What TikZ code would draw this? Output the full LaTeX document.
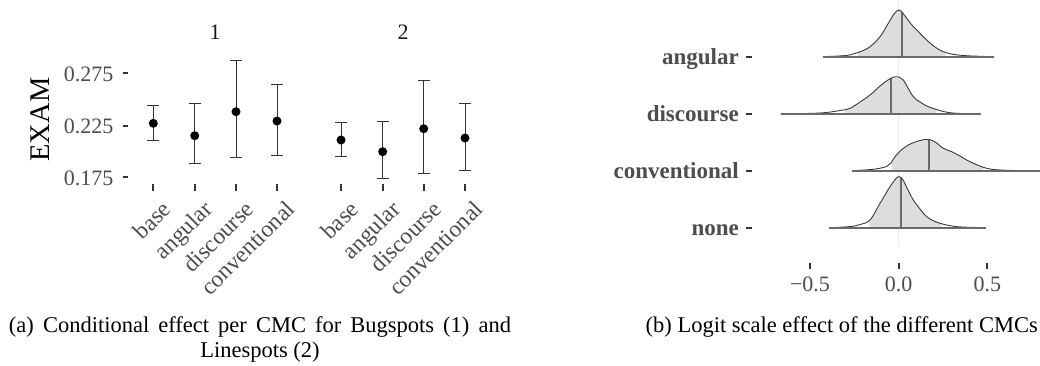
\documentclass[tikz,border=0pt]{standalone}
\usepackage{fontspec}
\setmainfont{Liberation Serif}
\definecolor{axtext}{HTML}{4D4D4D}
\definecolor{tickc}{HTML}{333333}
\definecolor{ridgeg}{HTML}{DDDDDD}
\definecolor{medc}{HTML}{6A6A6A}
\definecolor{gridc}{HTML}{EBEBEB}
\definecolor{curvec}{HTML}{3A3A3A}
\newcommand\ebar[5]{% name, x, top, point, bottom
  \draw[errbar] (#2,#3) -- (#2,#5) (#2-6,#3) -- (#2+6,#3) (#2-6,#5) -- (#2+6,#5);
  \fill[black] (#2,#4) circle[radius=4.5pt];
  \coordinate (#1) at (#2,#4);
}
\newcommand\ridge[7]{% points, base y, shade left, shade right, median x, first x, last x
  \begin{scope}
    \clip (#3,0) rectangle (#4,300);
    \fill[ridgeg] plot[smooth,tension=.6] coordinates {#1} -- cycle;
  \end{scope}
  \begin{scope}
    \clip plot[smooth,tension=.6] coordinates {#1} -- cycle;
    \draw[medc, line width=2pt] (#5,#2) -- (#5,0);
  \end{scope}
  \draw[curvec, line width=0.9pt] plot[smooth,tension=.6] coordinates {#1};
  \draw[medc, line width=1.6pt] (#6,#2) -- (#7,#2);
}
\begin{document}
\begin{tikzpicture}[x=1pt,y=-1pt,
  tickmark/.style={tickc, line width=2pt},
  ticklab/.style={text=axtext, font=\fontsize{22}{26}\selectfont, inner sep=0pt},
  rotlab/.style={text=axtext, font=\fontsize{23.5}{27}\selectfont, inner sep=0pt, rotate=45, anchor=north east},
  ridgelab/.style={text=axtext, font=\fontsize{23}{27}\selectfont\bfseries, inner sep=0pt},
  caplab/.style={font=\fontsize{22.5}{27}\selectfont, inner sep=0pt},
  facetlab/.style={text=black!90, font=\fontsize{22}{26}\selectfont, inner sep=0pt},
  errbar/.style={black!80, line width=1pt}]
\fill[white] (0,0) rectangle (1040,365);
\useasboundingbox (0,0) rectangle (1040,365);

% ---------------- left plot ----------------
\node[rotate=90, anchor=base, inner sep=0pt, font=\fontsize{28.5}{32}\selectfont] (ylab) at (49.3,119.5) {EXAM};
\node[facetlab, anchor=base] (f1) at (215.2,39.3) {1};
\node[facetlab, anchor=base] (f2) at (403,39.3) {2};

\foreach \yy/\lab/\nm in {73.3/0.275/ya, 125.7/0.225/yb, 177.3/0.175/yc}{
  \draw[tickmark] (122.7,\yy) -- (128.3,\yy);
  \node[ticklab, anchor=base east] (\nm) at (113.5,\yy+7.8) {\lab};
}
\foreach \xx/\lab/\nm in {153.3/base/xa, 194.7/angular/xb, 236/discourse/xc, 277/conventional/xd,
                         341/base/xe, 382.7/angular/xf, 423.7/discourse/xg, 465/conventional/xh}{
  \draw[tickmark] (\xx,184.3) -- (\xx,190.7);
  \node[rotlab] (\nm) at (\xx+7.5,199) {\lab};
}
\ebar{p1}{153.3}{105}{123.3}{140.7}
\ebar{p2}{194.7}{103.7}{135.7}{163.7}
\ebar{p3}{236}{60.7}{111.7}{157.7}
\ebar{p4}{277}{84.7}{121}{155.3}
\ebar{p5}{341}{122.7}{140}{156.3}
\ebar{p6}{382.7}{121.7}{151.7}{178.3}
\ebar{p7}{423.7}{80}{128.7}{173.3}
\ebar{p8}{465}{103}{138}{170.3}

% ---------------- right plot ----------------
\draw[gridc, line width=1pt] (898.7,0) -- (898.7,245);

\ridge{(823.3,56.7) (845,55.6) (853,54) (862,51) (870,46.7) (880,36.7) (888.3,23.3) (894,14) (899.3,10) (905,16) (911,24) (916.7,30) (926.7,40) (935,47) (943.3,51.7) (955,54.6) (970,55.9) (994,56.7)}{56.7}{858}{945}{902.3}{823.3}{994}
\ridge{(780.7,114) (820,113) (840,110.5) (850,108.3) (860,102) (870,95) (880,86) (888,80) (895,76.7) (900,77.5) (903.3,80) (908,88) (913.3,96.7) (920,102) (930,107.3) (950,112.7) (980.7,114)}{114}{845}{936.7}{890.7}{780.7}{980.7}
\ridge{(852.3,170.7) (870,169.6) (880,168.2) (886.7,166.4) (891,163) (895,156.7) (903.3,148.3) (913.3,142.7) (926.7,139.3) (935,142) (943.3,148.3) (951.7,151.7) (960,156) (970,161.7) (986.7,168.3) (1005,170.2) (1040,170.7)}{170.7}{891.7}{983.3}{929.3}{852.3}{1040}
\ridge{(829.3,227.7) (850,226.6) (860,224.5) (870,220) (880,203.3) (890,186.7) (896,178.5) (899.3,176.7) (903,180) (908,190) (913.3,200) (920,209) (926.7,216.7) (935,221.5) (946.7,225) (960,226.9) (985.7,227.7)}{227.7}{869}{941.7}{900.7}{829.3}{985.7}

\foreach \yy/\lab/\nm in {56.7/angular/ra, 114/discourse/rb, 170.7/conventional/rc, 227.7/none/rd}{
  \draw[tickmark] (745.7,\yy) -- (751.7,\yy);
  \node[ridgelab, anchor=base east] (\nm) at (739,\yy+7.5) {\lab};
}
\foreach \xx/\lab/\nm in {810/−0.5/xa, 898.7/0.0/xb, 987.3/0.5/xc}{
  \draw[tickmark] (\xx,262.7) -- (\xx,269.3);
  \node[ticklab, anchor=base] (r\nm) at (\xx,291.5) {\lab};
}

% ---------------- captions ----------------
\node[caplab, anchor=base] (capa1) at (260,332.7) {\makebox[502pt][s]{(a) Conditional effect per CMC for Bugspots (1) and}};
\node[caplab, anchor=base] (capa2) at (260,357.5) {Linespots (2)};
\node[caplab, anchor=base east] (capb) at (1038,332.7) {(b) Logit scale effect of the different CMCs};
\end{tikzpicture}
\end{document}
